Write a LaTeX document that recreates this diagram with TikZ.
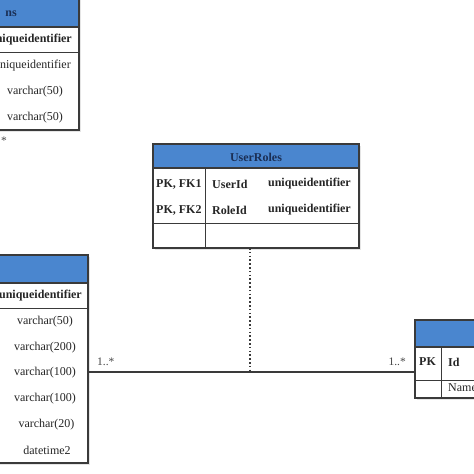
\documentclass[tikz,border=0pt]{standalone}
\usepackage{fontspec}
\setmainfont{Liberation Serif}
\usetikzlibrary{shadows}
\definecolor{hdr}{HTML}{4A86CF}
\definecolor{hdrtxt}{HTML}{1B2F55}
\definecolor{ln}{HTML}{3A3A3A}
\definecolor{txt}{HTML}{262626}
\begin{document}
\begin{tikzpicture}[x=1pt,y=-1pt,
  frame/.style={draw=ln, line width=1.1pt, fill=white, drop shadow={opacity=0.2, shadow xshift=1.5pt, shadow yshift=-1.5pt}},
  hdrfill/.style={fill=hdr, draw=ln, line width=1.1pt},
  sep/.style={draw=ln, line width=1pt},
  t/.style={font=\fontsize{12}{14}\selectfont, text=txt, inner sep=0pt},
  tb/.style={font=\fontsize{12}{14}\selectfont\bfseries, text=txt, inner sep=0pt},
  ht/.style={font=\fontsize{12}{14}\selectfont\bfseries, text=hdrtxt, inner sep=0pt},
  conn/.style={draw=ln, line width=1.1pt},
  dotline/.style={draw=ln, line width=1.3pt, dash pattern=on 1.6pt off 2.2pt},
  lbl/.style={font=\fontsize{11.5}{13}\selectfont, text=txt!85, inner sep=0pt}]
\useasboundingbox (0,0) rectangle (474,474);
\clip (0,0) rectangle (474,474);
\fill[white] (0,0) rectangle (474,474);

% top-left table
\path[frame] (-150,-2) rectangle (79,130);
\path[hdrfill] (-150,-2) rectangle (79,27);
\draw[sep] (-150,52) -- (79,52);
\node[ht, anchor=east] (tlh) at (17,14) {ns};
\node[tb, anchor=east] (tlpk) at (72,40) {uniqueidentifier};
\node[t, anchor=east] (tl1) at (71,66) {uniqueidentifier};
\node[t] (tl2) at (35,92) {varchar(50)};
\node[t] (tl3) at (35,118) {varchar(50)};
\node[lbl] (tlm) at (4,141) {*};

% bottom-left table
\path[frame] (-150,255) rectangle (88,463);
\path[hdrfill] (-150,255) rectangle (88,283);
\draw[sep] (-150,308) -- (88,308);
\node[tb, anchor=east] (blpk) at (82,296) {uniqueidentifier};
\node[t] (bl1) at (45,322) {varchar(50)};
\node[t] (bl2) at (45,348) {varchar(200)};
\node[t] (bl3) at (45,373) {varchar(100)};
\node[t] (bl4) at (45,399) {varchar(100)};
\node[t] (bl5) at (46.5,425) {varchar(20)};
\node[t] (bl6) at (47,450) {datetime2};
\coordinate (blconn) at (88,372);

% UserRoles
\path[frame] (153,144) rectangle (359,248);
\path[hdrfill] (153,144) rectangle (359,168);
\draw[sep] (153,223) -- (359,223);
\draw[sep] (205,168) -- (205,248);
\node[ht] (urh) at (256,157) {UserRoles};
\node[tb, anchor=west] (urk1) at (156,184) {PK, FK1};
\node[tb, anchor=west] (urk2) at (156,210) {PK, FK2};
\node[tb, anchor=west] (urn1) at (212,184) {UserId};
\node[tb, anchor=west] (urn2) at (212,210) {RoleId};
\node[tb, anchor=east] (urt1) at (351,184) {uniqueidentifier};
\node[tb, anchor=east] (urt2) at (351,210) {uniqueidentifier};
\coordinate (urbot) at (250,248);

% right table
\path[frame] (415,320) rectangle (560,398);
\path[hdrfill] (415,320) rectangle (560,347);
\draw[sep] (415,380) -- (560,380);
\draw[sep] (441,347) -- (441,398);
\node[tb] (rpk) at (427.5,362) {PK};
\node[tb, anchor=west] (rid) at (448,362) {Id};
\node[t, anchor=west] (rname) at (448,388) {Name};
\coordinate (rconn) at (415,372);

% connectors
\coordinate (mid) at (250,372);
\draw[conn] (blconn) -- (rconn);
\draw[dotline] (urbot) -- (mid);
\node[lbl, anchor=west] (l1) at (97,362) {1..*};
\node[lbl, anchor=east] (l2) at (406,362) {1..*};
\end{tikzpicture}
\end{document}
